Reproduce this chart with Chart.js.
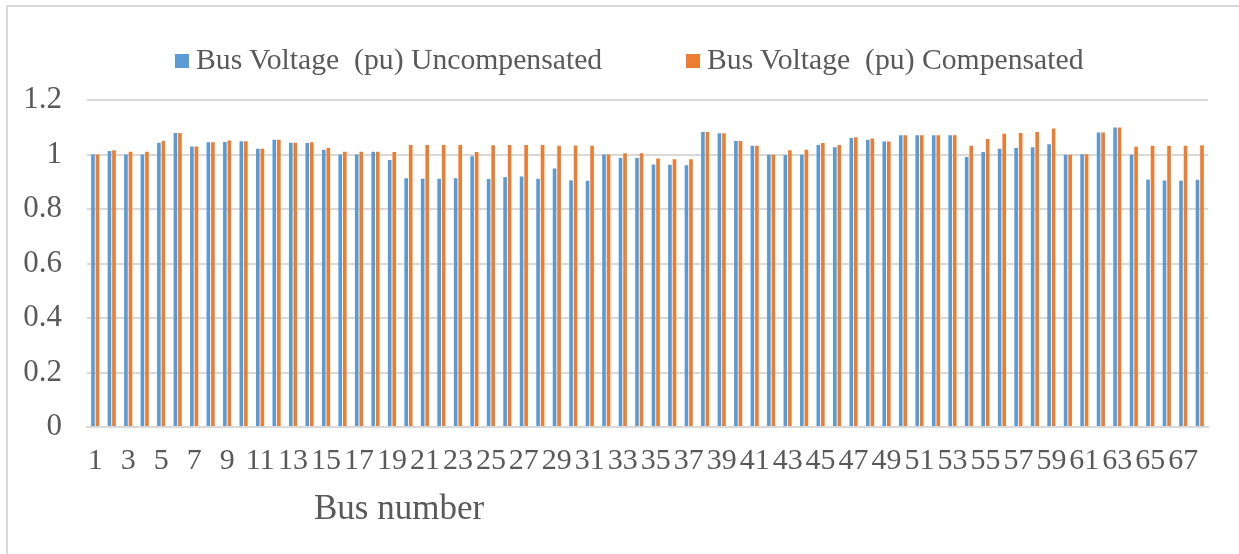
<!DOCTYPE html>
<html>
<head>
<meta charset="utf-8">
<script src="https://cdn.jsdelivr.net/npm/chart.js@4.4.0/dist/chart.umd.min.js"></script>
<style>
    body { margin: 0; background: #fff; }
    #wrap { position: relative; width: 1239px; height: 554px; overflow: hidden; font-family: "Liberation Serif", "Times New Roman", serif; color: #595959; }
    #marco { position: absolute; left: 6px; top: 5px; width: 1240px; height: 560px; border-top: 2px solid #d9d9d9; border-left: 2px solid #d9d9d9; }
    .leyenda { position: absolute; top: 41px; font-size: 29.7px; white-space: pre; line-height: 36px; }
    .leyenda span.caja { display: inline-block; width: 14px; height: 14px; margin-right: 7px; vertical-align: 1px; }
    #titulo_x { position: absolute; left: 314px; top: 488px; font-size: 35px; white-space: pre; }
    canvas { position: absolute; left: 0; top: 0; }
</style>
</head>
<body>
<div id="wrap">
    <div id="marco"></div>
    <canvas id="grafico" width="1239" height="554"></canvas>
    <div class="leyenda" style="left:175px"><span class="caja" style="background:#5B9BD5"></span>Bus Voltage  (pu) Uncompensated</div>
    <div class="leyenda" style="left:686px"><span class="caja" style="background:#ED7D31"></span>Bus Voltage  (pu) Compensated</div>
    <div id="titulo_x">Bus number</div>
</div>
<script>
// datos
const buses = ['1', '2', '3', '4', '5', '6', '7', '8', '9', '10',
    '11', '12', '13', '14', '15', '16', '17', '18', '19', '20',
    '21', '22', '23', '24', '25', '26', '27', '28', '29', '30',
    '31', '32', '33', '34', '35', '36', '37', '38', '39', '40',
    '41', '42', '43', '44', '45', '46', '47', '48', '49', '50',
    '51', '52', '53', '54', '55', '56', '57', '58', '59', '60',
    '61', '62', '63', '64', '65', '66', '67', '68'];

const uncompensated = [1.000, 1.013, 1.000, 1.000, 1.043, 1.079, 1.029, 1.045, 1.046, 1.049,
    1.021, 1.054, 1.043, 1.042, 1.017, 1.000, 1.000, 1.010, 0.980, 0.913,
    0.911, 0.911, 0.913, 0.994, 0.910, 0.917, 0.919, 0.911, 0.949, 0.905,
    0.904, 1.000, 0.987, 0.987, 0.963, 0.962, 0.961, 1.083, 1.078, 1.050,
    1.032, 0.999, 0.998, 0.999, 1.035, 1.027, 1.061, 1.054, 1.048, 1.071,
    1.071, 1.071, 1.071, 0.991, 1.009, 1.021, 1.024, 1.027, 1.038, 0.999,
    1.001, 1.081, 1.099, 0.999, 0.908, 0.905, 0.904, 0.907];

const compensated = [1.000, 1.016, 1.010, 1.010, 1.050, 1.079, 1.029, 1.045, 1.051, 1.049,
    1.021, 1.054, 1.043, 1.045, 1.024, 1.010, 1.010, 1.010, 1.009, 1.035,
    1.035, 1.035, 1.035, 1.009, 1.034, 1.035, 1.035, 1.035, 1.032, 1.033,
    1.032, 1.000, 1.005, 1.005, 0.985, 0.983, 0.983, 1.083, 1.078, 1.050,
    1.032, 0.999, 1.016, 1.017, 1.042, 1.035, 1.063, 1.059, 1.048, 1.071,
    1.071, 1.071, 1.071, 1.032, 1.057, 1.076, 1.079, 1.083, 1.095, 0.999,
    1.001, 1.081, 1.099, 1.028, 1.032, 1.032, 1.032, 1.034];

const yTicks = [0, 0.2, 0.4, 0.6, 0.8, 1, 1.2];

const fuente = "'Liberation Serif', 'Times New Roman', serif";
const gris = '#595959';

const data = {
    labels: buses,
    datasets: [{
        label: 'Bus Voltage  (pu) Uncompensated',
        backgroundColor: '#5B9BD5',
        data: uncompensated
    }, {
        label: 'Bus Voltage  (pu) Compensated',
        backgroundColor: '#ED7D31',
        data: compensated
    }]
};

const config = {
    type: 'bar',
    data: data,
    options: {
        responsive: false,
        animation: false,
        devicePixelRatio: 1,
        categoryPercentage: 0.55,
        barPercentage: 0.8,
        layout: { padding: { top: 100, right: 31, left: 0, bottom: 0 } },
        plugins: {
            legend: { display: false },
            tooltip: { enabled: false }
        },
        scales: {
            x: {
                grid: { display: false, drawTicks: false },
                border: { display: true, color: '#d9d9d9', width: 2 },
                ticks: {
                    autoSkip: false,
                    maxRotation: 0,
                    padding: 16,
                    color: gris,
                    font: { family: fuente, size: 30 },
                    callback: function (val, i) { return i % 2 == 0 ? buses[i] : ''; }
                },
                afterFit: function (scale) { scale.height = 127; }
            },
            y: {
                min: 0,
                max: 1.2,
                afterBuildTicks: function (scale) {
                    scale.ticks = yTicks.map(function (v) { return { value: v }; });
                },
                grid: { color: '#d9d9d9', lineWidth: 2, drawTicks: false },
                border: { display: false },
                ticks: {
                    padding: 25,
                    color: gris,
                    font: { family: fuente, size: 31 },
                    callback: function (v) { return String(Math.round(v * 10) / 10); }
                },
                afterFit: function (scale) { scale.width = 87; }
            }
        }
    }
};

const grafico = new Chart(document.getElementById('grafico'), config);
</script>
</body>
</html>
